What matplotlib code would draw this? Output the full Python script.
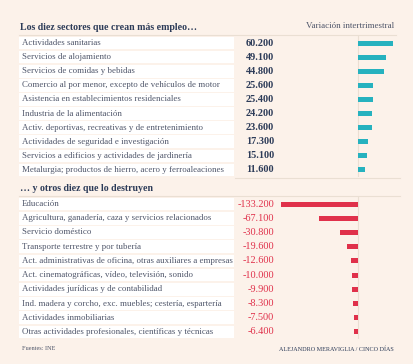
import matplotlib.pyplot as plt
from matplotlib.patches import Rectangle
from matplotlib.transforms import blended_transform_factory

# Data (variación intertrimestral de empleo por sector)
top_labels = [
    "Actividades sanitarias",
    "Servicios de alojamiento",
    "Servicios de comidas y bebidas",
    "Comercio al por menor, excepto de vehículos de motor",
    "Asistencia en establecimientos residenciales",
    "Industria de la alimentación",
    "Activ. deportivas, recreativas y de entretenimiento",
    "Actividades de seguridad e investigación",
    "Servicios a edificios y actividades de jardinería",
    "Metalurgia; productos de hierro, acero y ferroaleaciones",
]
top_values = [60200, 49100, 44800, 25600, 25400, 24200, 23600, 17300, 15100, 11600]

bottom_labels = [
    "Educación",
    "Agricultura, ganadería, caza y servicios relacionados",
    "Servicio doméstico",
    "Transporte terrestre y por tubería",
    "Act. administrativas de oficina, otras auxiliares a empresas",
    "Act. cinematográficas, vídeo, televisión, sonido",
    "Actividades jurídicas y de contabilidad",
    "Ind. madera y corcho, exc. muebles; cestería, espartería",
    "Actividades inmobiliarias",
    "Otras actividades profesionales, científicas y técnicas",
]
bottom_values = [-133200, -67100, -30800, -19600, -12600, -10000, -9900, -8300, -7500, -6400]

BG = "#fcf2ea"
NAVY = "#2c3b58"
GREY = "#4f566a"
TEAL = "#26b2bf"
RED = "#e0314b"
LINE = "#eadfd3"
FONT = "Liberation Serif"

W, H = 414, 364
fig = plt.figure(figsize=(W / 100, H / 100), dpi=100)
fig.patch.set_facecolor(BG)

# pixel geometry
x_left, x_right = 19, 396
x_zero = 358
px_per_unit = 0.00058
xmin = (x_left - x_zero) / px_per_unit
xmax = (x_right - x_zero) / px_per_unit
label_end = (234 - x_left) / (x_right - x_left)
num_x = (274 - x_left) / (x_right - x_left)


def fx(px):
    return px / W


def fy(py):
    return 1 - py / H


def section(y_top, y_bot, labels, values, color, bold):
    ax = fig.add_axes([fx(x_left), fy(y_bot), fx(x_right - x_left), (y_bot - y_top) / H])
    ax.set_facecolor("none")
    pos = list(range(len(values)))
    ax.barh(pos, values, height=0.36, color=color, zorder=3)
    ax.axvline(0, color=LINE, lw=0.8, zorder=2)
    ax.set_xlim(xmin, xmax)
    ax.set_ylim(len(values) - 0.5, -0.5)
    ax.axis("off")
    tr = blended_transform_factory(ax.transAxes, ax.transData)
    for i, (lab, v) in enumerate(zip(labels, values)):
        ax.add_patch(Rectangle((0, i - 0.45), label_end, 0.9, transform=tr,
                               facecolor="white", edgecolor="none", zorder=1))
        ax.text(0.008, i, lab, transform=tr, ha="left", va="center",
                fontsize=6.4, color=GREY, family=FONT)
        txt = f"{v:,}".replace(",", ".")
        ax.text(num_x, i, txt, transform=tr, ha="right", va="center",
                fontsize=7.4, color=NAVY if bold else color,
                fontweight="bold" if bold else "normal", family=FONT)
    return ax


section(36, 177, top_labels, top_values, TEAL, True)
section(197, 339, bottom_labels, bottom_values, RED, False)

# titles and rules
fig.text(fx(20), fy(27), "Los diez sectores que crean más empleo…", ha="left", va="center",
         fontsize=7.1, fontweight="bold", color=NAVY, family=FONT)
fig.text(fx(394), fy(26), "Variación intertrimestral", ha="right", va="center",
         fontsize=6.5, color=GREY, family=FONT)
fig.text(fx(20), fy(188), "… y otros diez que lo destruyen", ha="left", va="center",
         fontsize=7.1, fontweight="bold", color=NAVY, family=FONT)
fig.add_artist(plt.Line2D([fx(19), fx(396)], [fy(35), fy(35)], color=LINE, lw=0.8))
fig.add_artist(plt.Line2D([fx(235), fx(400)], [fy(178), fy(178)], color=LINE, lw=0.8))
fig.add_artist(plt.Line2D([fx(19), fx(400)], [fy(196), fy(196)], color=LINE, lw=0.8))

fig.text(fx(22), fy(349), "Fuentes: INE", ha="left", va="center",
         fontsize=4.5, color=GREY, family=FONT)
fig.text(fx(394), fy(349), "ALEJANDRO MERAVIGLIA / CINCO DÍAS", ha="right", va="center",
         fontsize=4.4, color=NAVY, family=FONT)

fig.savefig("out.png", dpi=100, facecolor=BG)
